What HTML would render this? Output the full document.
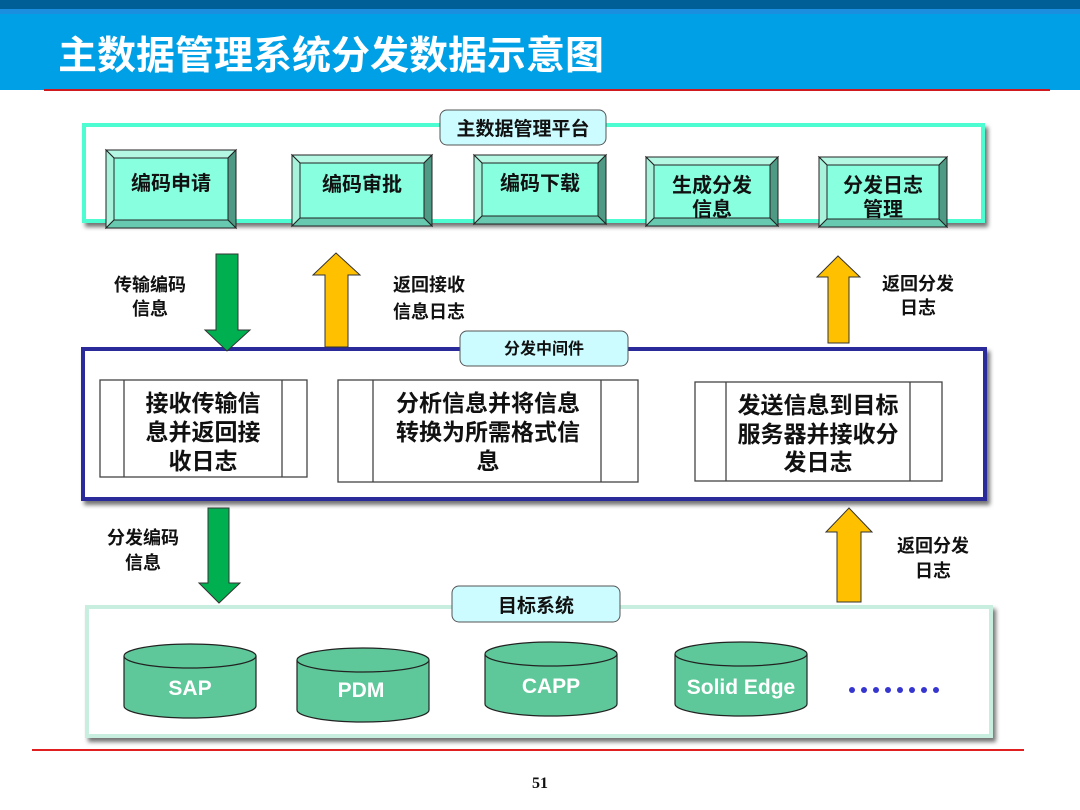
<!DOCTYPE html>
<html><head><meta charset="utf-8"><style>
html,body{margin:0;padding:0;background:#fff;width:1080px;height:810px;overflow:hidden}
svg text{font-family:"Liberation Sans","Noto Sans CJK SC",sans-serif;font-weight:bold}
</style></head><body>
<svg width="1080" height="810" viewBox="0 0 1080 810" xmlns="http://www.w3.org/2000/svg">
<defs>
<filter id="sh" x="-5%" y="-5%" width="110%" height="120%"><feDropShadow dx="3" dy="4" stdDeviation="2" flood-color="#000" flood-opacity="0.55"/></filter>
</defs>
<rect x="0" y="0" width="1080" height="9" fill="#005f96"/>
<rect x="0" y="9" width="1080" height="81" fill="#00a0e6"/>
<rect x="0" y="9" width="1080" height="5" fill="#1a8fe0"/>
<rect x="44" y="89" width="1006" height="2" fill="#d01a20"/>
<text x="58" y="69" font-size="39" fill="#fff">主数据管理系统分发数据示意图</text>

<rect x="84" y="125" width="899" height="96" fill="#fff" stroke="#4dfcd0" stroke-width="4" filter="url(#sh)"/>
<rect x="440" y="110" width="166" height="35" rx="7" fill="#ccfcff" stroke="#555" stroke-width="1"/>
<text x="523" y="135" font-size="19" text-anchor="middle" fill="#111">主数据管理平台</text>

<g stroke="#222" stroke-width="1">
<g transform="translate(106,150)">
<polygon points="0,0 130,0 122,8 8,8" fill="#b4f8e4"/><polygon points="0,0 8,8 8,70 0,78" fill="#a8f2dc"/>
<polygon points="130,0 130,78 122,70 122,8" fill="#4e9a84"/><polygon points="0,78 8,70 122,70 130,78" fill="#66c9b0"/>
<rect x="8" y="8" width="114" height="62" fill="#88ffdf"/></g>
<g transform="translate(292,155)">
<polygon points="0,0 140,0 132,8 8,8" fill="#b4f8e4"/><polygon points="0,0 8,8 8,63 0,71" fill="#a8f2dc"/>
<polygon points="140,0 140,71 132,63 132,8" fill="#4e9a84"/><polygon points="0,71 8,63 132,63 140,71" fill="#66c9b0"/>
<rect x="8" y="8" width="124" height="55" fill="#88ffdf"/></g>
<g transform="translate(474,155)">
<polygon points="0,0 132,0 124,8 8,8" fill="#b4f8e4"/><polygon points="0,0 8,8 8,61 0,69" fill="#a8f2dc"/>
<polygon points="132,0 132,69 124,61 124,8" fill="#4e9a84"/><polygon points="0,69 8,61 124,61 132,69" fill="#66c9b0"/>
<rect x="8" y="8" width="116" height="53" fill="#88ffdf"/></g>
<g transform="translate(646,157)">
<polygon points="0,0 132,0 124,8 8,8" fill="#b4f8e4"/><polygon points="0,0 8,8 8,61 0,69" fill="#a8f2dc"/>
<polygon points="132,0 132,69 124,61 124,8" fill="#4e9a84"/><polygon points="0,69 8,61 124,61 132,69" fill="#66c9b0"/>
<rect x="8" y="8" width="116" height="53" fill="#88ffdf"/></g>
<g transform="translate(819,157)">
<polygon points="0,0 128,0 120,8 8,8" fill="#b4f8e4"/><polygon points="0,0 8,8 8,62 0,70" fill="#a8f2dc"/>
<polygon points="128,0 128,70 120,62 120,8" fill="#4e9a84"/><polygon points="0,70 8,62 120,62 128,70" fill="#66c9b0"/>
<rect x="8" y="8" width="112" height="54" fill="#88ffdf"/></g>
</g>
<g font-size="20" fill="#111" text-anchor="middle">
<text x="171" y="190">编码申请</text>
<text x="362" y="191">编码审批</text>
<text x="540" y="190">编码下载</text>
<text x="712" y="192">生成分发</text><text x="712" y="216">信息</text>
<text x="883" y="192">分发日志</text><text x="883" y="216">管理</text>
</g>

<rect x="83" y="349" width="902" height="150" fill="#fff" stroke="#2b2b9a" stroke-width="4" filter="url(#sh)"/>
<g stroke="#444" stroke-width="1.3" fill="none">
<rect x="100" y="380" width="207" height="97" fill="#fff"/><line x1="124" y1="380" x2="124" y2="477"/><line x1="282" y1="380" x2="282" y2="477"/>
<rect x="338" y="380" width="300" height="102" fill="#fff"/><line x1="373" y1="380" x2="373" y2="482"/><line x1="601" y1="380" x2="601" y2="482"/>
<rect x="695" y="382" width="247" height="99" fill="#fff"/><line x1="726" y1="382" x2="726" y2="481"/><line x1="910" y1="382" x2="910" y2="481"/>
</g>
<g font-size="23" fill="#111" text-anchor="middle">
<text x="203" y="411">接收传输信</text><text x="203" y="440">息并返回接</text><text x="203" y="469">收日志</text>
<text x="488" y="411">分析信息并将信息</text><text x="488" y="440">转换为所需格式信</text><text x="488" y="469">息</text>
<text x="818" y="413">发送信息到目标</text><text x="818" y="442">服务器并接收分</text><text x="818" y="470">发日志</text>
</g>

<g stroke="#333" stroke-width="1">
<polygon points="216,254 238,254 238,330 250,330 227,351 205,330 216,330" fill="#00b050"/>
<polygon points="336,253 360,275 348,275 348,347 325,347 325,275 313,275" fill="#ffc000"/>
<polygon points="838,256 860,277 849,277 849,343 828,343 828,277 817,277" fill="#ffc000"/>
<polygon points="208,508 229,508 229,583 240,583 219,603 199,583 208,583" fill="#00b050"/>
<polygon points="849,508 872,532 861,532 861,602 837,602 837,532 826,532" fill="#ffc000"/>
</g>
<rect x="460" y="331" width="168" height="35" rx="7" fill="#ccfcff" stroke="#555" stroke-width="1"/>
<text x="544" y="354" font-size="16" text-anchor="middle" fill="#111">分发中间件</text>

<g font-size="18" fill="#111" text-anchor="middle">
<text x="150" y="291">传输编码</text><text x="150" y="315">信息</text>
<text x="429" y="291">返回接收</text><text x="429" y="318">信息日志</text>
<text x="918" y="290">返回分发</text><text x="918" y="314">日志</text>
<text x="143" y="544">分发编码</text><text x="143" y="569">信息</text>
<text x="933" y="552">返回分发</text><text x="933" y="577">日志</text>
</g>

<rect x="87" y="607" width="904" height="129" fill="#fff" stroke="#c8eedf" stroke-width="4" filter="url(#sh)"/>
<rect x="452" y="586" width="168" height="36" rx="7" fill="#ccfcff" stroke="#555" stroke-width="1"/>
<text x="536" y="612" font-size="19" text-anchor="middle" fill="#111">目标系统</text>

<g stroke="#222" stroke-width="1.2" fill="#5ec89a">
<path d="M124,656 L124,706 A66,12 0 0 0 256,706 L256,656"/><ellipse cx="190" cy="656" rx="66" ry="12"/>
<path d="M297,660 L297,710 A66,12 0 0 0 429,710 L429,660"/><ellipse cx="363" cy="660" rx="66" ry="12"/>
<path d="M485,654 L485,704 A66,12 0 0 0 617,704 L617,654"/><ellipse cx="551" cy="654" rx="66" ry="12"/>
<path d="M675,654 L675,704 A66,12 0 0 0 807,704 L807,654"/><ellipse cx="741" cy="654" rx="66" ry="12"/>
</g>
<g font-size="21" fill="#fff" text-anchor="middle">
<text x="190" y="695">SAP</text>
<text x="361" y="697">PDM</text>
<text x="551" y="693">CAPP</text>
<text x="741" y="694">Solid Edge</text>
</g>
<g fill="#3535d0">
<circle cx="852" cy="690" r="3"/><circle cx="864" cy="690" r="3"/><circle cx="876" cy="690" r="3"/><circle cx="888" cy="690" r="3"/>
<circle cx="900" cy="690" r="3"/><circle cx="912" cy="690" r="3"/><circle cx="924" cy="690" r="3"/><circle cx="936" cy="690" r="3"/>
</g>

<rect x="32" y="749" width="992" height="2" fill="#e02020"/>
<text x="540" y="788" font-size="16" text-anchor="middle" fill="#111" style="font-family:'Liberation Serif',serif">51</text>
</svg>
</body></html>
